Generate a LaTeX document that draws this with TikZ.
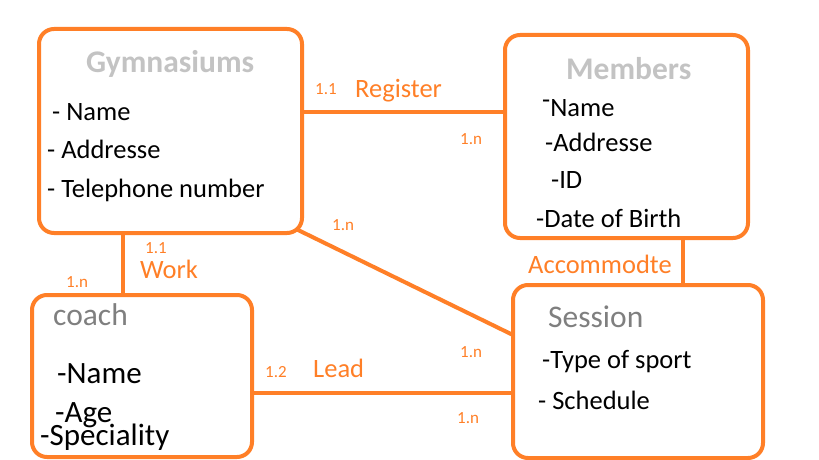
\documentclass[tikz,border=0pt]{standalone}
\usepackage{fontspec}
\setmainfont{Carlito}
\definecolor{orng}{RGB}{255,127,39}
\definecolor{ltgrey}{RGB}{195,195,195}
\definecolor{dkgrey}{RGB}{127,127,127}
\begin{document}
\begin{tikzpicture}[x=1pt,y=-1pt,
  box/.style={draw=orng,line width=4pt,rounded corners=15pt,anchor=north west,inner sep=0pt,outer sep=0pt},
  conn/.style={draw=orng,line width=4pt},
  txt/.style={anchor=base west,inner sep=0pt,font=\fontsize{26.5}{30}\selectfont},
  big/.style={anchor=base west,inner sep=0pt,font=\fontsize{31}{34}\selectfont},
  ttl/.style={anchor=base west,inner sep=0pt,font=\fontsize{31.5}{34}\selectfont\bfseries,text=ltgrey},
  ttlb/.style={anchor=base west,inner sep=0pt,font=\fontsize{31.5}{34}\selectfont,text=dkgrey},
  rel/.style={anchor=base west,inner sep=0pt,text=orng,font=\fontsize{26.5}{30}\selectfont},
  card/.style={anchor=base west,inner sep=0pt,text=orng,font=\fontsize{17}{20}\selectfont}]
\useasboundingbox (0,0) rectangle (819,460);
% boxes
\node[box,minimum width=263pt,minimum height=204pt] (gym) at (39,29) {};
\node[box,minimum width=243pt,minimum height=203pt] (mem) at (505,35) {};
\node[box,minimum width=220pt,minimum height=162pt] (coa) at (32,295) {};
\node[box,minimum width=250pt,minimum height=173pt] (ses) at (513,285) {};
% helper coordinates
\coordinate (ry) at (0,112);
\coordinate (wx) at (123,0);
\coordinate (ax) at (683,0);
\coordinate (ly) at (0,393);
\coordinate (dy) at (0,335);
\coordinate (d1) at (296,229);
% connectors
\draw[conn] (gym.east |- ry) -- (mem.west |- ry);
\draw[conn] (wx |- gym.south) -- (wx |- coa.north);
\draw[conn] (ax |- mem.south) -- (ax |- ses.north);
\draw[conn] (coa.east |- ly) -- (ses.west |- ly);
\draw[conn] (d1) -- (ses.west |- dy);
% Gymnasiums
\node[ttl] (gt) at (86,73) {Gymnasiums};
\node[txt] (g1) at (52,120) {- Name};
\node[txt] (g2) at (47,158) {- Addresse};
\node[txt] (g3) at (47,197) {- Telephone number};
% Members
\node[ttl] (mt) at (566,79) {Members};
\node[txt] (m1) at (542,116) {\raisebox{8pt}{-}Name};
\node[txt] (m2) at (545,151) {-Addresse};
\node[txt] (m3) at (551,188) {-ID};
\node[txt] (m4) at (536,227) {-Date of Birth};
% coach
\node[ttlb] (ct) at (53,325) {coach};
\node[big] (c1) at (57,383) {-Name};
\node[big] (c2) at (55,422) {-Age};
\node[big] (c3) at (40,445) {-Speciality};
% Session
\node[ttlb] (st) at (548,327) {Session};
\node[txt] (s1) at (542,368) {-Type of sport};
\node[txt] (s2) at (538,409) {- Schedule};
% relation labels
\node[card] (k1) at (315,95) {1.1};
\node[rel] (r1) at (355,97) {Register};
\node[card] (k2) at (460,144) {1.n};
\node[card] (k3) at (332,230) {1.n};
\node[card] (k4) at (145,253) {1.1};
\node[rel] (r2) at (140,278) {Work};
\node[card] (k5) at (66,287) {1.n};
\node[rel] (r3) at (528,273) {Accommodte};
\node[card] (k6) at (460,357) {1.n};
\node[card] (k7) at (265,377) {1.2};
\node[rel] (r4) at (313,377) {Lead};
\node[card] (k8) at (457,423) {1.n};
\end{tikzpicture}
\end{document}
